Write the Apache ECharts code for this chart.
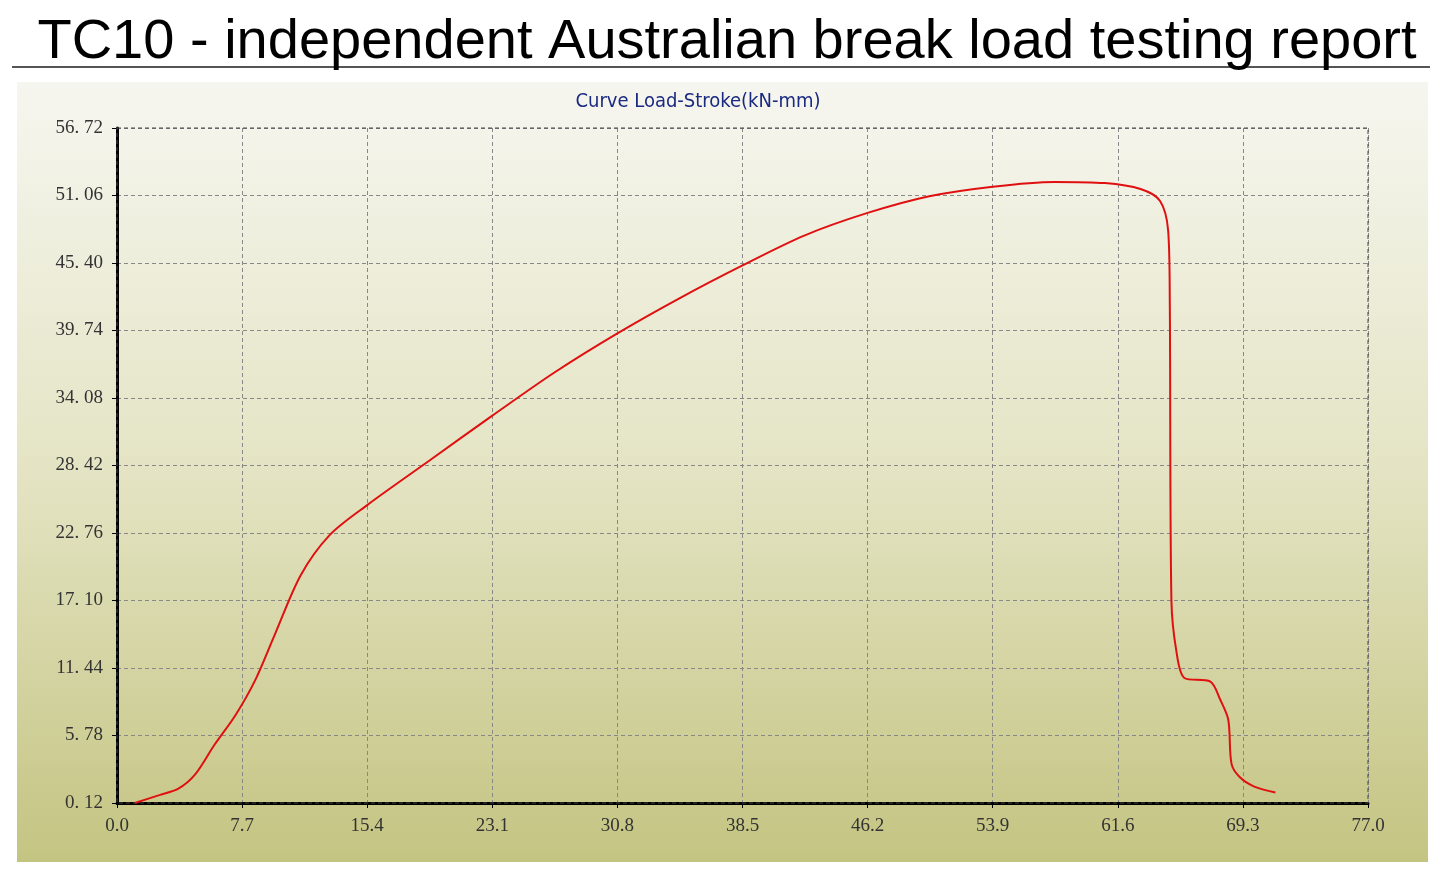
<!DOCTYPE html>
<html>
<head>
<meta charset="utf-8">
<script src="https://cdn.jsdelivr.net/npm/echarts@6/dist/echarts.min.js"></script>
<style>
html,body{margin:0;padding:0;background:#fff;}
#main{width:1445px;height:872px;}
</style>
</head>
<body>
<div id="main"></div>
<script>
// stroke (mm)
var stroke=[1.1,2.65,3.75,4.8,6.0,7.3,8.5,9.7,11.3,13.1,15.4,19.3,23.1,26.9,30.8,34.7,38.5,42.3,46.2,50.0,53.9,57.7,60.8,63.0,64.2,64.7,64.8,64.9,65.2,65.7,67.3,67.9,68.4,68.6,69.1,70.0,71.3];
// load (kN)
var load=[0.12,0.8,1.3,2.5,5.0,7.5,10.4,14.2,19.2,22.6,25.1,28.9,32.6,36.2,39.5,42.5,45.2,47.7,49.6,51.0,51.8,52.2,52.1,51.6,50.6,48.1,42.2,17.1,12.9,10.6,10.3,8.8,7.1,3.4,2.3,1.5,1.0];
var pts=stroke.map(function(s,i){return [s,load[i]];});

var chart=echarts.init(document.getElementById('main'));
chart.setOption({
  animation:false,
  title:{text:'TC10 - independent Australian break load testing report',left:722,top:10,textAlign:'center',
    textStyle:{fontFamily:'Liberation Sans',fontSize:56,fontWeight:'normal',color:'#000'}},
  graphic:[
    {type:'line',shape:{x1:12,y1:67,x2:1430,y2:67},style:{stroke:'#555',lineWidth:2},z:-1},
    {type:'rect',shape:{x:17,y:82,width:1411,height:780},z:-2,
     style:{fill:new echarts.graphic.LinearGradient(0,0,0,1,[{offset:0,color:'#f6f6f0'},{offset:0.5,color:'#e4e4c4'},{offset:1,color:'#c4c482'}])}},
    {type:'text',x:698,y:92,style:{text:'Curve Load-Stroke(kN-mm)',fill:'#1a2a80',font:'20px "Liberation Sans Narrow", "DejaVu Sans Condensed", sans-serif',textAlign:'center'}},
    {type:'rect',shape:{x:117,y:128,width:1251,height:675},style:{fill:'none',stroke:'#444',lineWidth:1,lineDash:[4,3]},z:1}
  ],
  grid:{left:117,right:77,top:128,bottom:69},
  xAxis:{type:'value',min:0,max:77,interval:7.7,
    axisLine:{lineStyle:{color:'#000',width:3}},
    axisTick:{show:true,length:5,lineStyle:{color:'#000'}},
    axisLabel:{color:'#333',fontSize:19,fontFamily:'Liberation Sans Narrow',margin:14,formatter:function(v){return v.toFixed(1);}},
    splitLine:{lineStyle:{color:'#888',type:[4,3]}}},
  yAxis:{type:'value',min:0.12,max:56.72,interval:5.66,
    axisLine:{show:true,lineStyle:{color:'#000',width:3}},
    axisTick:{show:true,length:5,lineStyle:{color:'#000'}},
    axisLabel:{color:'#333',fontSize:19,fontFamily:'Liberation Sans Narrow',margin:14,formatter:function(v){return v.toFixed(2).replace('.','. ');}},
    splitLine:{lineStyle:{color:'#888',type:[4,3]}}},
  series:[{type:'line',data:pts,smooth:0.3,showSymbol:false,lineStyle:{color:'#e01010',width:2}}]
});
</script>
</body>
</html>
